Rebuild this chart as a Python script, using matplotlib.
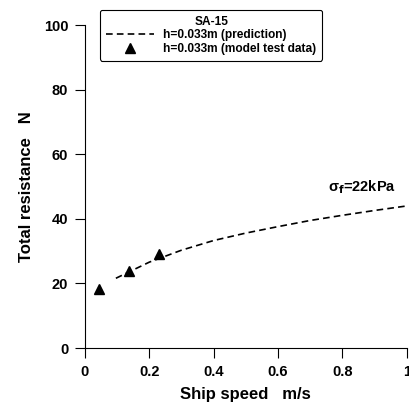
import numpy as np
import matplotlib
matplotlib.use('Agg')
import matplotlib.pyplot as plt

plt.rcParams['font.family'] = ['Liberation Sans', 'DejaVu Sans']
plt.rcParams['font.weight'] = 'bold'

#%% Data
speed_pred = [0.096, 0.2, 0.3, 0.4, 0.5, 0.6, 0.7, 0.8, 0.9, 1.0]
resist_pred = [21.6, 26.6, 30.3, 33.3, 35.6, 37.6, 39.5, 41.1, 42.6, 44.0]

speed_test = [0.045, 0.137, 0.23]
resist_test = [18.3, 23.8, 29.2]

xticks = [0, 0.2, 0.4, 0.6, 0.8, 1]
xticklabels = ['0', '0.2', '0.4', '0.6', '0.8', '1']
yticks = [0, 20, 40, 60, 80, 100]

#%% Plot
fig = plt.figure(figsize=(4.09, 4.12), dpi=100)
ax = fig.add_axes([0.2078, 0.1553, 0.7866, 0.7837])

ax.plot(speed_pred, resist_pred, color='black', lw=1.2, dashes=(4, 2.5),
        label='h=0.033m (prediction)')
ax.plot(speed_test, resist_test, '^', color='black', ms=6.5, ls='none',
        label='h=0.033m (model test data)')

ax.text(0.756, 49.8, 'σ$_\\mathbf{f}$=22kPa', fontsize=10.5, fontweight='bold',
        va='center', ha='left')

ax.set_xlim(0, 1)
ax.set_ylim(0, 100)
ax.set_xticks(xticks)
ax.set_xticklabels(xticklabels)
ax.set_yticks(yticks)
ax.tick_params(direction='out', length=7, width=0.8, labelsize=10.5, pad=5)
for lab in ax.get_xticklabels() + ax.get_yticklabels():
    lab.set_fontweight('bold')
ax.spines['top'].set_visible(False)
ax.spines['right'].set_visible(False)
ax.spines['left'].set_linewidth(0.8)
ax.spines['bottom'].set_linewidth(0.8)

ax.set_xlabel('Ship speed   m/s', fontsize=12, fontweight='bold', labelpad=6)
ax.set_ylabel('Total resistance   N', fontsize=12, fontweight='bold', labelpad=7)

leg = ax.legend(loc='upper left', bbox_to_anchor=(100 / 409, 1 - 10 / 412),
                bbox_transform=fig.transFigure, title='SA-15', fontsize=8.6,
                title_fontproperties={'weight': 'bold', 'size': 8.6},
                frameon=True, fancybox=True, edgecolor='black', framealpha=1,
                handlelength=4.0, handletextpad=0.8, borderpad=0.5,
                labelspacing=0.12, borderaxespad=0)
leg.get_frame().set_linewidth(0.8)
for t in leg.get_texts():
    t.set_fontweight('bold')

fig.savefig('out.png', dpi=100)
